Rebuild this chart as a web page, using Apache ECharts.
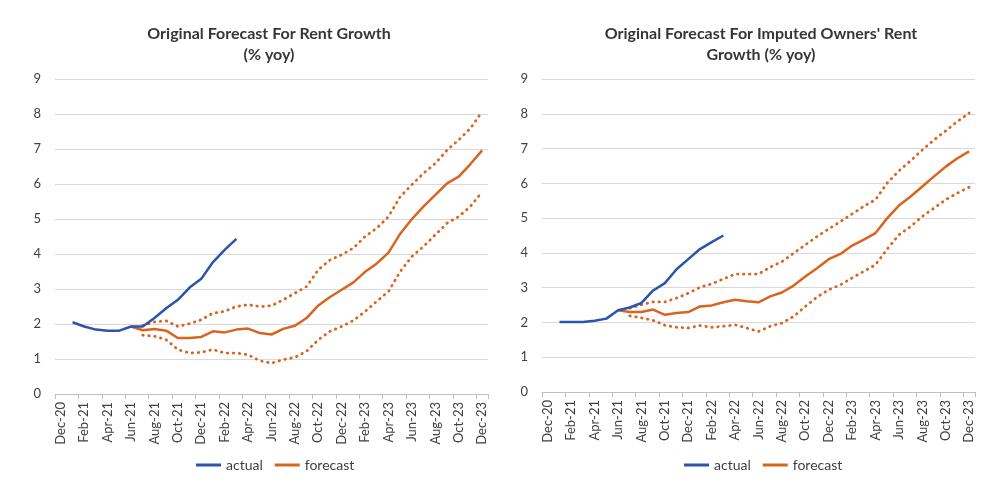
<!DOCTYPE html>
<html>
<head>
<meta charset="utf-8">
<script src="https://cdn.jsdelivr.net/npm/echarts@6/dist/echarts.min.js"></script>
<style>
    html, body {margin: 0; padding: 0; background: #fff;}
    #main {width: 1000px; height: 487px;}
</style>
</head>
<body>
<div id="main"></div>
<script>
// monthly categories, Dec-20 .. Dec-23
const months = ['Dec-20', 'Jan-21', 'Feb-21', 'Mar-21', 'Apr-21', 'May-21', 'Jun-21', 'Jul-21', 'Aug-21',
    'Sep-21', 'Oct-21', 'Nov-21', 'Dec-21', 'Jan-22', 'Feb-22', 'Mar-22', 'Apr-22', 'May-22', 'Jun-22',
    'Jul-22', 'Aug-22', 'Sep-22', 'Oct-22', 'Nov-22', 'Dec-22', 'Jan-23', 'Feb-23', 'Mar-23', 'Apr-23',
    'May-23', 'Jun-23', 'Jul-23', 'Aug-23', 'Sep-23', 'Oct-23', 'Nov-23', 'Dec-23'];
const yTicks = [0, 1, 2, 3, 4, 5, 6, 7, 8, 9];

// rent growth (left chart)
const rentActual = [null, 2.05, 1.93, 1.84, 1.81, 1.81, 1.93, 1.93, 2.17, 2.45, 2.69, 3.04, 3.29, 3.77, 4.12, 4.43];
const rentForecast = [null, null, null, null, null, null,
    1.93, 1.82, 1.86, 1.81, 1.60, 1.60, 1.63, 1.79, 1.76, 1.84, 1.87, 1.74, 1.70, 1.86, 1.95, 2.17,
    2.53, 2.77, 2.98, 3.19, 3.49, 3.73, 4.04, 4.58, 5.00, 5.36, 5.69, 6.02, 6.21, 6.57, 6.96];
const rentHigh = [null, null, null, null, null, null, null,
    1.96, 2.06, 2.09, 1.93, 2.01, 2.12, 2.31, 2.36, 2.50, 2.55, 2.50, 2.52, 2.69, 2.88, 3.07,
    3.55, 3.83, 3.98, 4.17, 4.50, 4.74, 5.07, 5.64, 5.98, 6.31, 6.59, 6.97, 7.26, 7.59, 8.07];
const rentLow = [null, null, null, null, null, null, null,
    1.68, 1.65, 1.55, 1.27, 1.17, 1.19, 1.27, 1.17, 1.17, 1.12, 0.95, 0.88, 0.98, 1.05, 1.22,
    1.55, 1.79, 1.93, 2.10, 2.36, 2.65, 2.93, 3.50, 3.93, 4.22, 4.55, 4.88, 5.07, 5.36, 5.78];

// owners' equivalent rent growth (right chart)
const oerActual = [null, 2.01, 2.01, 2.01, 2.05, 2.11, 2.35, 2.43, 2.56, 2.92, 3.13, 3.53, 3.82, 4.11, 4.31, 4.50];
const oerForecast = [null, null, null, null, null, null,
    2.35, 2.30, 2.30, 2.37, 2.22, 2.27, 2.30, 2.46, 2.49, 2.58, 2.65, 2.61, 2.58, 2.75, 2.86, 3.06,
    3.32, 3.56, 3.82, 3.97, 4.21, 4.38, 4.57, 5.00, 5.36, 5.62, 5.91, 6.20, 6.48, 6.72, 6.92];
const oerHigh = [null, null, null, null, null, null, null,
    2.41, 2.51, 2.59, 2.59, 2.70, 2.84, 3.01, 3.11, 3.25, 3.39, 3.39, 3.39, 3.59, 3.75, 3.99,
    4.23, 4.47, 4.69, 4.90, 5.12, 5.34, 5.53, 6.01, 6.36, 6.65, 6.96, 7.25, 7.51, 7.78, 8.02];
const oerLow = [null, null, null, null, null, null, null,
    2.19, 2.13, 2.06, 1.92, 1.86, 1.84, 1.91, 1.86, 1.89, 1.93, 1.84, 1.74, 1.89, 1.98, 2.17,
    2.46, 2.73, 2.94, 3.08, 3.28, 3.47, 3.66, 4.11, 4.52, 4.76, 5.05, 5.29, 5.53, 5.72, 5.89];

const blue = '#2c54a8';
const orange = '#d9641e';
const font = 'Lato, "Open Sans", sans-serif';

const xAxis = (gridIndex) => ({
    type: 'category',
    gridIndex: gridIndex,
    data: months,
    boundaryGap: true,
    axisLine: {lineStyle: {color: '#bfbfbf', width: 1}},
    axisTick: {show: true, interval: 1, length: 5, lineStyle: {color: '#bfbfbf'}},
    axisLabel: {interval: 1, rotate: 90, color: '#404040', fontSize: 13, fontFamily: font, margin: 8}
});

const yAxis = (gridIndex) => ({
    type: 'value',
    gridIndex: gridIndex,
    min: yTicks[0],
    max: yTicks[yTicks.length - 1],
    interval: 1,
    axisLine: {show: false},
    axisTick: {show: false},
    axisLabel: {color: '#404040', fontSize: 13, fontFamily: font, margin: 14},
    splitLine: {lineStyle: {color: '#d9d9d9', width: 1}}
});

const solid = (name, idx, data, color) => ({
    name: name, type: 'line', xAxisIndex: idx, yAxisIndex: idx, data: data,
    symbol: 'none', connectNulls: false,
    lineStyle: {color: color, width: 2.5},
    itemStyle: {color: color}
});

const dotted = (name, idx, data) => ({
    name: name, type: 'line', xAxisIndex: idx, yAxisIndex: idx, data: data,
    symbol: 'none', connectNulls: false,
    lineStyle: {color: orange, width: 2.8, type: [0.5, 5.5], cap: 'round'}
});

const titleStyle = {color: '#363636', fontSize: 16, fontWeight: 'bold', fontFamily: font, lineHeight: 21};
const legendText = {color: '#404040', fontSize: 14, fontFamily: font};

const chart = echarts.init(document.getElementById('main'));
chart.setOption({
    animation: false,
    backgroundColor: '#fff',
    title: [
        {text: 'Original Forecast For Rent Growth\n(% yoy)', left: 264, top: 18, textAlign: 'center', textStyle: titleStyle},
        {text: 'Original Forecast For Imputed Owners\' Rent\nGrowth (% yoy)', left: 756, top: 18, textAlign: 'center', textStyle: titleStyle}
    ],
    legend: [
        {
            data: ['actual', 'forecast'], left: 191, top: 453, itemGap: 12,
            icon: 'rect', itemWidth: 25, itemHeight: 3, textStyle: legendText
        },
        {
            data: ['actual', 'forecast'], left: 679, top: 453, itemGap: 12,
            icon: 'rect', itemWidth: 25, itemHeight: 3, textStyle: legendText
        }
    ],
    grid: [
        {left: 55, right: 512, top: 79, bottom: 93},
        {left: 542, right: 25, top: 79, bottom: 95}
    ],
    xAxis: [xAxis(0), xAxis(1)],
    yAxis: [yAxis(0), yAxis(1)],
    series: [
        dotted('rent high', 0, rentHigh),
        dotted('rent low', 0, rentLow),
        solid('forecast', 0, rentForecast, orange),
        solid('actual', 0, rentActual, blue),
        dotted('oer high', 1, oerHigh),
        dotted('oer low', 1, oerLow),
        solid('forecast', 1, oerForecast, orange),
        solid('actual', 1, oerActual, blue)
    ]
});
</script>
</body>
</html>
